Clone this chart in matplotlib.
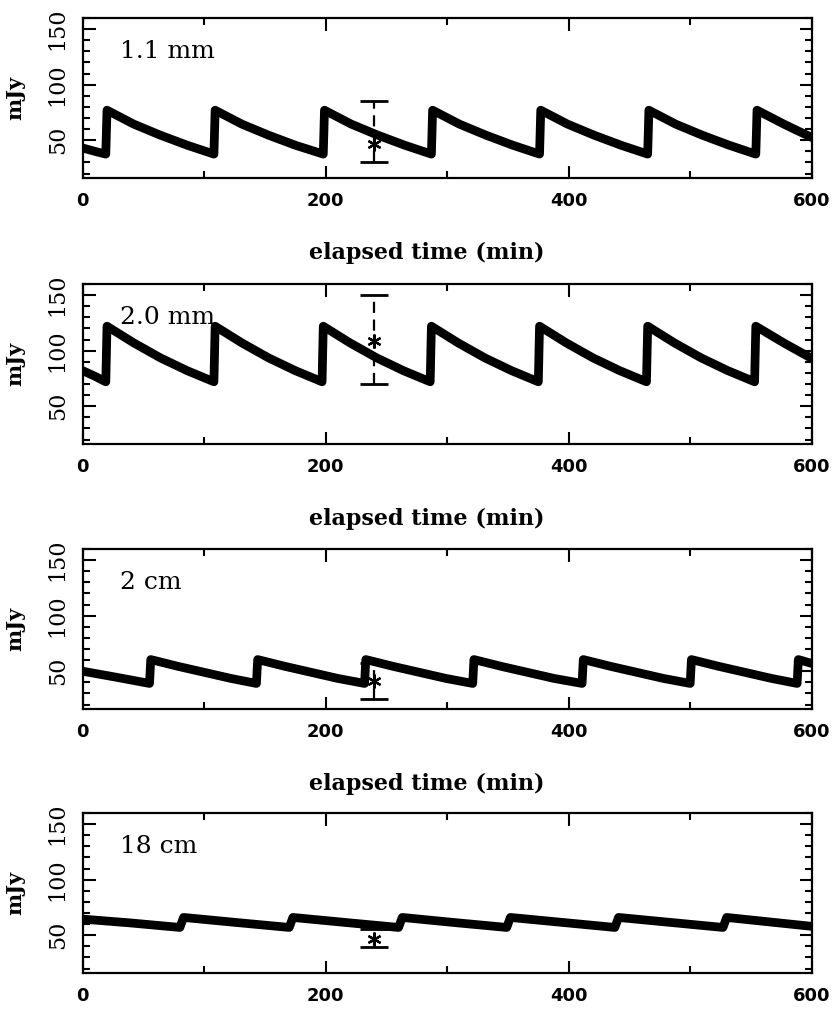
"""Four-band light curves (mJy vs elapsed time) with the observed error bar at t=240."""
import matplotlib.pyplot as plt
from matplotlib.ticker import MultipleLocator

# ---- data ---------------------------------------------------------------
BANDS = ["1.1 mm", "2.0 mm", "2 cm", "18 cm"]

T_11MM = [0, 10, 19, 20, 42, 64, 86, 108, 109, 131, 153, 175, 198, 199, 221, 243,
          265, 287, 288, 310, 332, 354, 376, 377, 399, 421, 443, 465, 466, 488,
          510, 532, 554, 555, 578, 600]
F_11MM = [43, 40, 37.5, 77, 64.5, 54.5, 45.5, 37.5, 77, 64.5, 54.5, 45.5, 37.5, 77,
          64.5, 54.5, 45.5, 37.5, 77, 64.5, 54.5, 45.5, 37.5, 77, 64.5, 54.5, 45.5,
          37.5, 77, 64.5, 54.5, 45.5, 37.5, 77, 64, 52.5]

T_20MM = [0, 10, 19, 20, 42, 64, 86, 108, 109, 131, 153, 175, 197, 198, 220, 242,
          264, 286, 287, 309, 331, 353, 375, 376, 398, 420, 442, 464, 465, 487,
          509, 531, 553, 554, 577, 600]
F_20MM = [82, 77, 72, 122, 107, 93.5, 82, 72, 122, 107, 93.5, 82, 72, 122, 107,
          93.5, 82, 72, 122, 107, 93.5, 82, 72, 122, 107, 93.5, 82, 72, 122, 107,
          93.5, 82, 72, 122, 107, 93]

T_2CM = [0, 28, 55, 56, 78, 100, 122, 143, 144, 166, 188, 210, 232, 233, 255, 277,
         299, 321, 322, 344, 366, 388, 411, 412, 434, 456, 478, 500, 501, 523, 545,
         567, 588, 589, 600]
F_2CM = [50, 44.5, 39, 60.5, 54.5, 49, 43.5, 39, 60.5, 54.5, 49, 43.5, 39, 60.5,
         54.5, 49, 43.5, 39, 60.5, 54.5, 49, 43.5, 39, 60.5, 54.5, 49, 43.5, 39,
         60.5, 54.5, 49, 43.5, 39, 60.5, 57]

T_18CM = [0, 40, 80, 83, 126, 170, 173, 216, 260, 263, 305, 349, 352, 395, 438,
          441, 484, 527, 530, 565, 600]
F_18CM = [64.5, 61, 57, 66, 61.5, 57, 66, 61.5, 57, 66, 61.5, 57, 66, 61.5, 57,
          66, 61.5, 57, 66, 62, 58]

# measured point at t = 240 min: value, lower end, upper end
OBS_T = 240
OBS_F = [47, 109, 41, 47]
OBS_LO = [30.5, 70, 25, 39.5]
OBS_HI = [85, 150, 57, 56]

CURVES = [(T_11MM, F_11MM), (T_20MM, F_20MM), (T_2CM, F_2CM), (T_18CM, F_18CM)]

# ---- layout -------------------------------------------------------------
W, H = 837, 1011
AX_LEFT = 82.7 / W
AX_WIDTH = 729 / W
AX_HEIGHT = 160 / H
AX_TOPS = [18, 284, 549, 813]

plt.rcParams["font.family"] = "DejaVu Serif"

fig = plt.figure(figsize=(W / 100, H / 100), dpi=100)

for i, (band, (t, f)) in enumerate(zip(BANDS, CURVES)):
    bottom = 1 - (AX_TOPS[i] + 160) / H
    ax = fig.add_axes([AX_LEFT, bottom, AX_WIDTH, AX_HEIGHT])

    eb = ax.errorbar([OBS_T], [OBS_F[i]],
                     yerr=[[OBS_F[i] - OBS_LO[i]], [OBS_HI[i] - OBS_F[i]]],
                     fmt="none", ecolor="black", elinewidth=1.6, capsize=10,
                     capthick=2, zorder=2)
    eb[2][0].set_linestyle((0, (5, 3)))
    ax.plot([OBS_T], [OBS_F[i]], marker=(6, 2, 0), color="black", ms=10, mew=1.6,
            linestyle="none", zorder=2)
    ax.plot(t, f, color="black", lw=6.3, solid_capstyle="round",
            solid_joinstyle="round", zorder=3)

    ax.set_xlim(0, 600)
    ax.set_ylim(16, 160)
    ax.xaxis.set_major_locator(MultipleLocator(200))
    ax.xaxis.set_minor_locator(MultipleLocator(100))
    ax.yaxis.set_major_locator(MultipleLocator(50))
    ax.yaxis.set_minor_locator(MultipleLocator(10))
    ax.tick_params(which="both", direction="in", top=True, right=True, width=1.5)
    ax.tick_params(which="major", length=9)
    ax.tick_params(which="minor", length=5)
    ax.tick_params(axis="x", pad=10)
    ax.tick_params(axis="y", pad=10)
    for lab in ax.get_xticklabels():
        lab.set_family("DejaVu Sans")
        lab.set_weight("bold")
        lab.set_fontsize(13)
    for lab in ax.get_yticklabels():
        lab.set_rotation(90)
        lab.set_va("center")
        lab.set_fontsize(16)
    for sp in ax.spines.values():
        sp.set_linewidth(1.6)

    ax.set_ylabel("mJy", fontsize=15, fontweight="bold")
    ax.yaxis.set_label_coords(-0.079, 0.5)
    if i < 3:
        ax.set_xlabel("elapsed time (min)", fontsize=16, fontweight="bold")
        ax.xaxis.set_label_coords(0.472, -0.40)

    ax.text(31, 130, band, fontsize=18, ha="left", va="center")

fig.savefig("out.png", dpi=100)
